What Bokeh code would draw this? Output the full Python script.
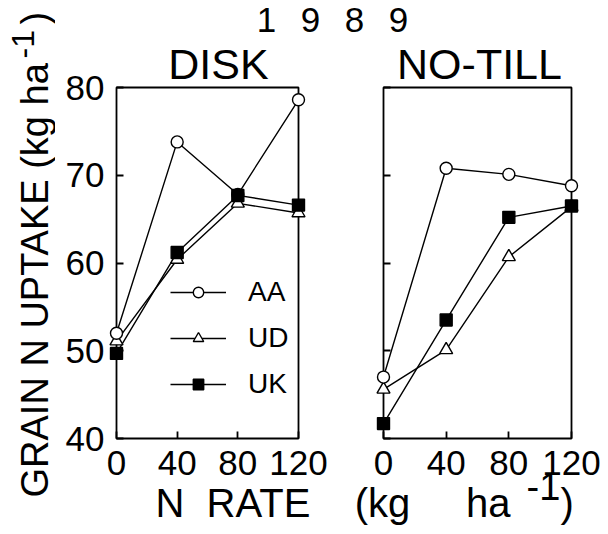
from bokeh.plotting import figure
from bokeh.layouts import row, column
from bokeh.models import Range1d, LinearAxis, FixedTicker, Label, Legend, LegendItem
from bokeh.embed import file_html
from bokeh.resources import INLINE

# ---------------- data ----------------
n_rate = [0, 40, 80, 120]
disk_aa = [52.0, 73.8, 67.8, 78.6]
disk_ud = [51.1, 60.4, 66.8, 65.7]
disk_uk = [49.7, 61.2, 67.7, 66.6]
notill_aa = [47.0, 70.8, 70.1, 68.8]
notill_ud = [45.6, 50.1, 60.7, 66.4]
notill_uk = [41.7, 53.5, 65.2, 66.5]
x_ticks = [0, 40, 80, 120]
y_ticks = [40, 50, 60, 70, 80]
series_names = ["AA", "UD", "UK"]
panel_titles = ["DISK", "NO-TILL"]
year_text = "1\u2002\u20099\u2002\u20098\u2002\u20099"

FONT = "Liberation Sans"
LW = 1.8


def strip(w, h):
    f = figure(width=w, height=h, x_range=Range1d(0, w), y_range=Range1d(0, h),
               output_backend="svg", toolbar_location=None,
               x_axis_location=None, y_axis_location=None, min_border=0)
    f.grid.visible = False
    f.outline_line_color = None
    f.background_fill_alpha = 0
    f.border_fill_alpha = 0
    return f


def panel(aa, ud, uk, width, bl, br, show_ylabels, legend=False):
    p = figure(width=width, height=426, x_range=Range1d(0, 120), y_range=Range1d(40, 80),
               output_backend="svg", toolbar_location=None,
               x_axis_location=None, y_axis_location=None,
               min_border_left=bl, min_border_right=br, min_border_top=23, min_border_bottom=52)
    p.grid.visible = False
    p.outline_line_color = "black"
    p.outline_line_width = LW
    p.border_fill_alpha = 0

    common = dict(axis_line_color=None, major_tick_line_width=LW,
                  major_tick_line_color="black", minor_tick_line_color=None,
                  major_tick_in=7, major_tick_out=0, major_label_text_font=FONT,
                  major_label_text_font_size="35px")
    ax_b = LinearAxis(ticker=FixedTicker(ticks=x_ticks), major_label_standoff=12,
                      major_label_text_color="black", **common)
    p.add_layout(ax_b, "below")
    ax_l = LinearAxis(ticker=FixedTicker(ticks=y_ticks), major_label_standoff=12,
                      major_label_text_color="black" if show_ylabels else None, **common)
    p.add_layout(ax_l, "left")

    l_aa = p.line(n_rate, aa, line_color="black", line_width=1.4, level="overlay")
    l_ud = p.line(n_rate, ud, line_color="black", line_width=1.4, level="overlay")
    l_uk = p.line(n_rate, uk, line_color="black", line_width=1.4, level="overlay")
    s_ud = p.scatter(n_rate, ud, marker="triangle", size=13, fill_color="white", line_color="black",
                     line_width=1.4, level="overlay")
    s_aa = p.scatter(n_rate, aa, marker="circle", size=12, fill_color="white", line_color="black",
                     line_width=1.4, level="overlay")
    s_uk = p.scatter(n_rate, uk, marker="square", size=12, fill_color="black", line_color="black",
                     line_width=1.4, level="overlay")

    if legend:
        lg = Legend(items=[LegendItem(label=series_names[0], renderers=[l_aa, s_aa]),
                           LegendItem(label=series_names[1], renderers=[l_ud, s_ud]),
                           LegendItem(label=series_names[2], renderers=[l_uk, s_uk])],
                    location=(54, 37), orientation="vertical", glyph_width=56, glyph_height=26,
                    label_standoff=22, spacing=12, padding=0, margin=0,
                    label_text_font=FONT, label_text_font_size="28px", label_text_color="black",
                    label_height=34, border_line_color=None, background_fill_alpha=0)
        p.add_layout(lg)
    return p


disk = panel(disk_aa, disk_ud, disk_uk, 285, 61, 42, True, legend=True)
notill = panel(notill_aa, notill_ud, notill_uk, 268, 43, 37, False)

# top strip: year and panel titles (panels overlap its transparent lower part)
top = strip(553, 92)
top.add_layout(Label(x=277, y=73, text=year_text, text_align="center",
                     text_baseline="middle", text_font=FONT, text_font_size="35px",
                     text_color="black"))
top.add_layout(Label(x=163, y=29, text=panel_titles[0], text_align="center",
                     text_baseline="middle", text_font=FONT, text_font_size="43px",
                     text_color="black"))
top.add_layout(Label(x=424, y=29, text=panel_titles[1], text_align="center",
                     text_baseline="middle", text_font=FONT, text_font_size="43px",
                     text_color="black"))

panels = row(disk, notill)
panels.styles = {"margin-top": "-28px"}

# bottom strip: x axis label (overlaps the panels' lower border a little)
bot = strip(553, 72)
bot.styles = {"margin-top": "-28px"}
bot.add_layout(Label(x=100, y=32,
                     text="N\u00a0\u00a0RATE\u00a0\u00a0\u00a0\u00a0(kg\u00a0\u00a0\u00a0\u00a0\u00a0ha",
                     text_align="left", text_baseline="middle", text_font=FONT,
                     text_font_size="40px", text_color="black"))
bot.add_layout(Label(x=471, y=48, text="-1", text_align="left", text_baseline="middle",
                     text_font=FONT, text_font_size="38px", text_color="black"))
bot.add_layout(Label(x=505, y=32, text=")", text_align="left", text_baseline="middle",
                     text_font=FONT, text_font_size="40px", text_color="black"))

# left strip: y axis label
ylab = strip(55, 534)
ylab.add_layout(Label(x=34, y=37, angle=90, angle_units="deg",
                      text="GRAIN N UPTAKE (kg ha",
                      text_align="left", text_baseline="middle", text_font=FONT,
                      text_font_size="38px", text_color="black"))
ylab.add_layout(Label(x=22, y=476, angle=90, angle_units="deg", text="-1",
                      text_align="left", text_baseline="middle", text_font=FONT,
                      text_font_size="32px", text_color="black"))
ylab.add_layout(Label(x=34, y=510, angle=90, angle_units="deg", text=")",
                      text_align="left", text_baseline="middle", text_font=FONT,
                      text_font_size="38px", text_color="black"))

layout = row(ylab, column(top, panels, bot))

open("out.html", "w").write(file_html(layout, INLINE))
